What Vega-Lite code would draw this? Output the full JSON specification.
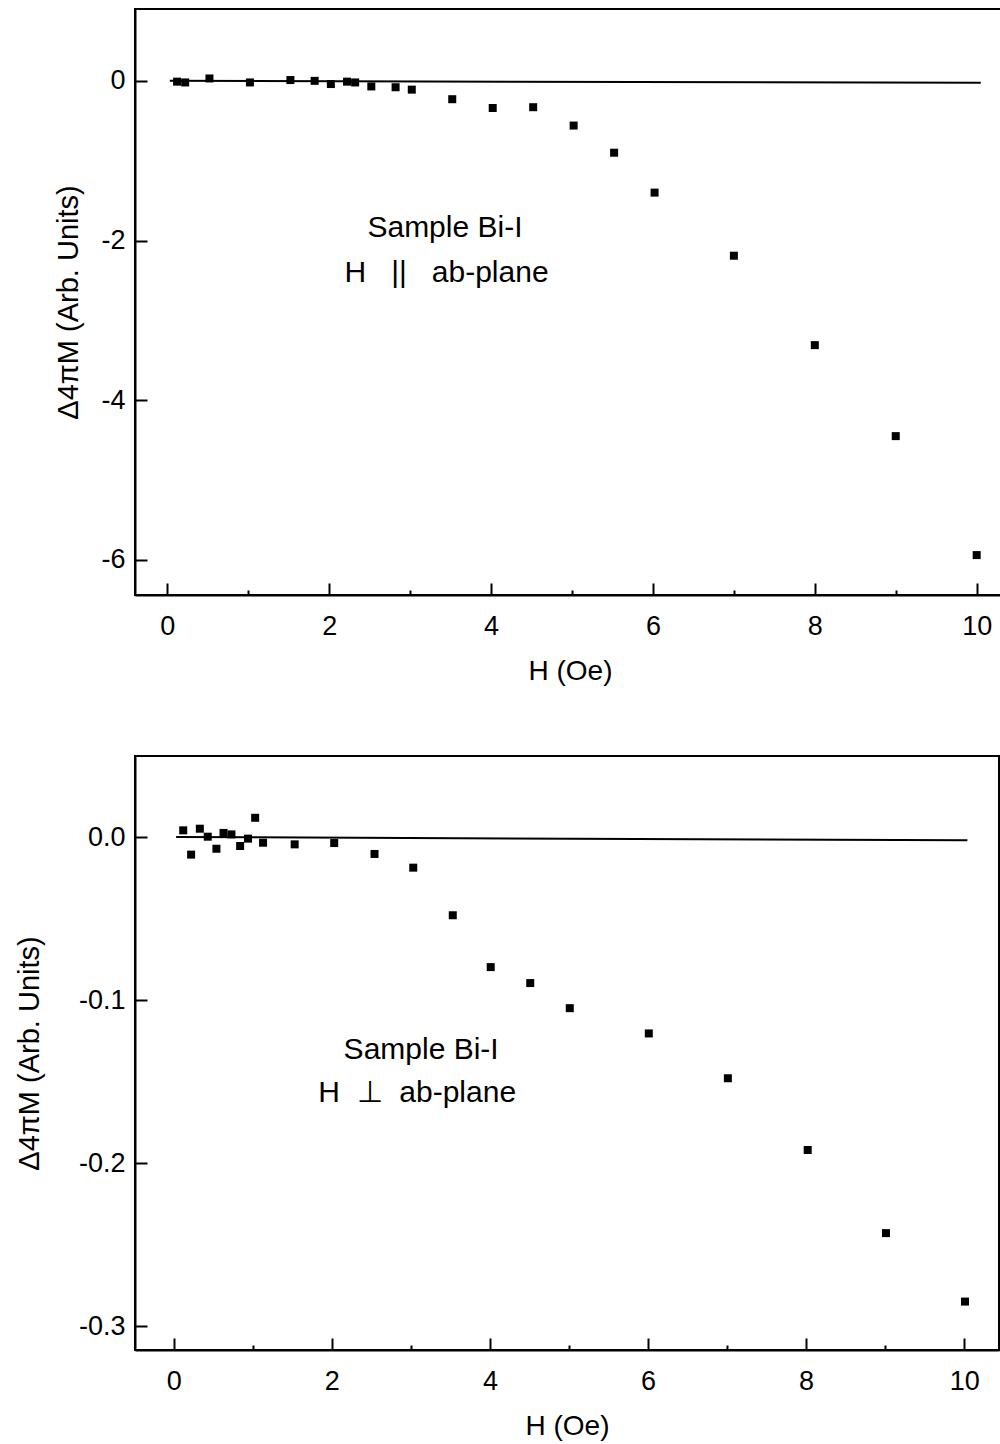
{
  "$schema": "https://vega.github.io/schema/vega-lite/v6.json",
  "padding": {"left": 14, "top": 8, "right": 0, "bottom": 0},
  "background": "white",
  "spacing": 69,
  "datasets": {
    "top": [
      {"H": 0.12, "M": -0.01}, {"H": 0.22, "M": -0.02}, {"H": 0.52, "M": 0.03},
      {"H": 1.02, "M": -0.02}, {"H": 1.52, "M": 0.01}, {"H": 1.82, "M": 0.0},
      {"H": 2.02, "M": -0.04}, {"H": 2.22, "M": -0.01}, {"H": 2.32, "M": -0.02},
      {"H": 2.52, "M": -0.07}, {"H": 2.82, "M": -0.08}, {"H": 3.02, "M": -0.11},
      {"H": 3.52, "M": -0.23}, {"H": 4.02, "M": -0.34}, {"H": 4.52, "M": -0.33},
      {"H": 5.02, "M": -0.56}, {"H": 5.52, "M": -0.9}, {"H": 6.02, "M": -1.4},
      {"H": 7.0, "M": -2.19}, {"H": 8.0, "M": -3.31}, {"H": 9.0, "M": -4.45},
      {"H": 10.0, "M": -5.94}
    ],
    "topLine": [{"H": 0.03, "M": 0.0}, {"H": 10.05, "M": -0.025}],
    "topText": [
      {"H": 3.43, "M": -1.955, "label": "Sample Bi-I"},
      {"H": 3.45, "M": -2.52, "label": "H\u00a0\u00a0\u00a0||\u00a0\u00a0\u00a0ab-plane"}
    ],
    "bottom": [
      {"H": 0.12, "M": 0.0041}, {"H": 0.22, "M": -0.0108}, {"H": 0.33, "M": 0.0051},
      {"H": 0.43, "M": 0.0002}, {"H": 0.54, "M": -0.0072}, {"H": 0.63, "M": 0.0025},
      {"H": 0.73, "M": 0.0016}, {"H": 0.84, "M": -0.0055}, {"H": 0.94, "M": -0.001},
      {"H": 1.03, "M": 0.0118}, {"H": 1.13, "M": -0.0035}, {"H": 1.53, "M": -0.0045},
      {"H": 2.03, "M": -0.0037}, {"H": 2.54, "M": -0.0104}, {"H": 3.03, "M": -0.0188},
      {"H": 3.53, "M": -0.048}, {"H": 4.01, "M": -0.0798}, {"H": 4.51, "M": -0.0896},
      {"H": 5.01, "M": -0.105}, {"H": 6.01, "M": -0.1205}, {"H": 7.01, "M": -0.148},
      {"H": 8.02, "M": -0.192}, {"H": 9.01, "M": -0.243}, {"H": 10.01, "M": -0.285}
    ],
    "bottomLine": [{"H": 0.03, "M": 0.0}, {"H": 10.04, "M": -0.002}],
    "bottomText": [
      {"H": 3.13, "M": -0.1362, "label": "Sample Bi-I"},
      {"H": 3.08, "M": -0.1625, "label": "H\u00a0\u00a0⊥\u00a0\u00a0ab-plane"}
    ]
  },
  "config": {
    "font": "Liberation Sans",
    "view": {"stroke": "black", "strokeWidth": 2},
    "axis": {
      "grid": false,
      "domainColor": "black",
      "domainWidth": 2,
      "tickColor": "black",
      "tickWidth": 2,
      "labelColor": "black",
      "labelFontSize": 27,
      "labelFont": "Liberation Sans",
      "titleColor": "black",
      "titleFontSize": 28,
      "titleFont": "Liberation Sans",
      "titleFontWeight": "normal"
    }
  },
  "vconcat": [
    {
      "width": 870,
      "height": 586,
      "layer": [
        {
          "data": {"name": "topLine"},
          "mark": {"type": "line", "color": "black", "strokeWidth": 2},
          "encoding": {
            "x": {"field": "H", "type": "quantitative"},
            "y": {"field": "M", "type": "quantitative"}
          }
        },
        {
          "data": {"name": "top"},
          "mark": {"type": "point", "shape": "square", "filled": true, "color": "black", "size": 64, "opacity": 1},
          "encoding": {
            "x": {
              "field": "H", "type": "quantitative",
              "scale": {"domain": [-0.4, 10.35], "nice": false, "zero": false},
              "axis": {
                "title": "H (Oe)",
                "values": [0, 1, 2, 3, 4, 5, 6, 7, 8, 9, 10],
                "format": "d",
                "labelExpr": "datum.value % 2 === 0 ? datum.label : ''",
                "tickSize": {"condition": {"test": "datum.value % 2 === 0", "value": -12}, "value": -5},
                "labelPadding": 30,
                "titlePadding": 18
              }
            },
            "y": {
              "field": "M", "type": "quantitative",
              "scale": {"domain": [-6.44, 0.9], "nice": false, "zero": false},
              "axis": {
                "title": "Δ4πM (Arb. Units)",
                "titleFontSize": 29,
                "values": [0, -2, -4, -6],
                "format": "d",
                "labelExpr": "replace(datum.label, '−', '-')",
                "tickSize": -12,
                "labelPadding": 22,
                "titlePadding": 17
              }
            }
          }
        },
        {
          "data": {"name": "topText"},
          "mark": {"type": "text", "fontSize": 30, "font": "Liberation Sans", "align": "center", "baseline": "alphabetic", "color": "black"},
          "encoding": {
            "x": {"field": "H", "type": "quantitative"},
            "y": {"field": "M", "type": "quantitative"},
            "text": {"field": "label"}
          }
        }
      ]
    },
    {
      "width": 864,
      "height": 594,
      "layer": [
        {
          "data": {"name": "bottomLine"},
          "mark": {"type": "line", "color": "black", "strokeWidth": 2},
          "encoding": {
            "x": {"field": "H", "type": "quantitative"},
            "y": {"field": "M", "type": "quantitative"}
          }
        },
        {
          "data": {"name": "bottom"},
          "mark": {"type": "point", "shape": "square", "filled": true, "color": "black", "size": 64, "opacity": 1},
          "encoding": {
            "x": {
              "field": "H", "type": "quantitative",
              "scale": {"domain": [-0.49, 10.44], "nice": false, "zero": false},
              "axis": {
                "title": "H (Oe)",
                "values": [0, 1, 2, 3, 4, 5, 6, 7, 8, 9, 10],
                "format": "d",
                "labelExpr": "datum.value % 2 === 0 ? datum.label : ''",
                "tickSize": {"condition": {"test": "datum.value % 2 === 0", "value": -12}, "value": -5},
                "labelPadding": 30,
                "titlePadding": 18
              }
            },
            "y": {
              "field": "M", "type": "quantitative",
              "scale": {"domain": [-0.3147, 0.0497], "nice": false, "zero": false},
              "axis": {
                "title": "Δ4πM (Arb. Units)",
                "titleFontSize": 29,
                "values": [0, -0.1, -0.2, -0.3],
                "format": ".1f",
                "labelExpr": "replace(datum.label, '−', '-')",
                "tickSize": -12,
                "labelPadding": 22,
                "titlePadding": 34
              }
            }
          }
        },
        {
          "data": {"name": "bottomText"},
          "mark": {"type": "text", "fontSize": 30, "font": "Liberation Sans", "align": "center", "baseline": "alphabetic", "color": "black"},
          "encoding": {
            "x": {"field": "H", "type": "quantitative"},
            "y": {"field": "M", "type": "quantitative"},
            "text": {"field": "label"}
          }
        }
      ]
    }
  ]
}
